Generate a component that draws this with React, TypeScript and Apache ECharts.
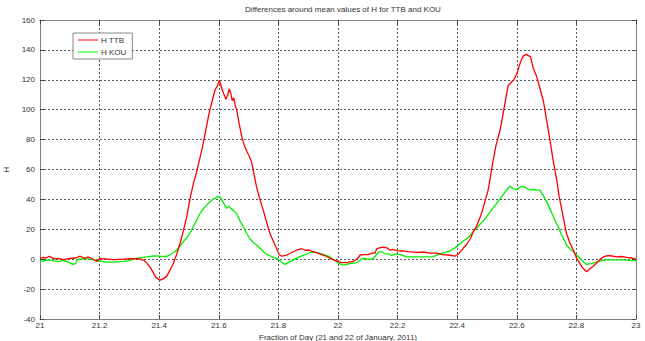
import React, { useEffect, useRef } from "react";
import * as echarts from "echarts";

const titleText = "Differences around mean values of H for TTB and KOU";
const xName = "Fraction of Day (21 and 22 of January, 2011)";
const yName = "H";
const seriesNames = ["H TTB", "H KOU"];

const ttbX = [
  21.0, 21.01, 21.02, 21.03, 21.04, 21.05, 21.06, 21.08, 21.1, 21.12, 21.135, 21.15, 21.16, 21.175, 21.19, 21.2,
  21.22, 21.25, 21.28, 21.3, 21.33, 21.35, 21.36, 21.37, 21.38, 21.39, 21.403, 21.415, 21.425, 21.437, 21.447,
  21.458, 21.47, 21.481, 21.492, 21.503, 21.514, 21.525, 21.537, 21.545, 21.554, 21.562, 21.57, 21.578, 21.587,
  21.595, 21.602, 21.606, 21.612, 21.618, 21.624, 21.63, 21.635, 21.64, 21.645, 21.65, 21.655, 21.66, 21.667,
  21.677, 21.686, 21.694, 21.702, 21.71, 21.718, 21.727, 21.738, 21.749, 21.76, 21.772, 21.783, 21.794, 21.803,
  21.811, 21.825, 21.839, 21.85, 21.861, 21.87, 21.878, 21.89, 21.905, 21.915, 21.928, 21.945, 21.96, 21.973,
  21.985, 22.0, 22.012, 22.03, 22.051, 22.065, 22.075, 22.085, 22.1, 22.115, 22.124, 22.13, 22.14, 22.15, 22.163,
  22.175, 22.185, 22.197, 22.215, 22.235, 22.264, 22.29, 22.31, 22.331, 22.35, 22.37, 22.393, 22.405, 22.42,
  22.432, 22.445, 22.454, 22.465, 22.482, 22.495, 22.504, 22.512, 22.521, 22.53, 22.544, 22.552, 22.56, 22.567,
  22.571, 22.58, 22.59, 22.6, 22.611, 22.617, 22.622, 22.632, 22.64, 22.646, 22.655, 22.667, 22.678, 22.689,
  22.7, 22.711, 22.722, 22.734, 22.742, 22.751, 22.76, 22.767, 22.778, 22.79, 22.8, 22.812, 22.822, 22.834,
  22.845, 22.857, 22.868, 22.88, 22.89, 22.902, 22.915, 22.935, 22.95, 22.97, 22.985, 23.0,
];
const ttbY = [
  0.5, 1.2, 0.8, 2.0, 1.0, 0.2, 0.5, -0.3, 0.5, 0.8, 2.0, 0.5, 1.5, 0.3, -1.5, 0.3,
  0.2, -0.3, 0.0, 0.3, 0.3, -0.8, -3, -5.5, -9, -12.5, -14, -13, -11.5, -7, -3,
  3, 10.5, 19, 28, 40, 50, 58, 68, 75, 84, 92, 100, 106, 113,
  116, 119.5, 117, 113, 110, 107, 110, 114, 111, 106, 108, 103, 100, 92,
  82, 76, 72, 69, 65, 57, 48, 40, 33, 25, 17, 12, 7, 3,
  2, 2.5, 4, 5, 6, 6.5, 7, 6, 6, 5, 4.4, 3, 2, 0.6,
  -0.5, -1.5, -2.3, -2.3, -1.5, 0.5, 2.8, 3, 3, 4, 4, 7, 7.5, 8, 7.7,
  6, 6.5, 5.7, 5.5, 5, 4.6, 4.8, 4, 4, 3, 2.8, 2.1, 3.5, 7.3,
  10, 14, 18.4, 22, 30.7, 40, 46.3, 56, 66.4, 76, 86.4, 95, 104, 112,
  116, 118, 120, 124, 131, 134, 136, 137, 136, 135.5, 128, 122, 114, 106,
  93, 80, 66, 53, 42, 33, 24, 17, 11, 6, 1, -3, -6, -8.4,
  -6.5, -4.5, -2.5, 0, 1.5, 2.3, 2.3, 1.5, 1.8, 1.2, 0.8, 0,
];

const kouX = [
  21.0, 21.01, 21.02, 21.03, 21.04, 21.06, 21.08, 21.095, 21.11, 21.12, 21.125, 21.14, 21.16, 21.18, 21.2, 21.22,
  21.25, 21.28, 21.3, 21.32, 21.34, 21.36, 21.38, 21.4, 21.425, 21.44, 21.453, 21.467, 21.481, 21.495, 21.509,
  21.523, 21.537, 21.551, 21.565, 21.58, 21.593, 21.6, 21.607, 21.615, 21.626, 21.634, 21.64, 21.65, 21.66,
  21.67, 21.682, 21.693, 21.705, 21.716, 21.727, 21.74, 21.755, 21.77, 21.783, 21.794, 21.808, 21.822, 21.836,
  21.85, 21.872, 21.89, 21.905, 21.928, 21.945, 21.96, 21.973, 21.99, 22.005, 22.018, 22.04, 22.063, 22.075,
  22.085, 22.1, 22.114, 22.125, 22.135, 22.146, 22.16, 22.17, 22.18, 22.195, 22.21, 22.23, 22.26, 22.29, 22.32,
  22.342, 22.36, 22.376, 22.398, 22.42, 22.44, 22.454, 22.47, 22.485, 22.499, 22.515, 22.533, 22.55, 22.566,
  22.577, 22.588, 22.6, 22.612, 22.622, 22.633, 22.644, 22.66, 22.678, 22.69, 22.7, 22.715, 22.728, 22.74,
  22.751, 22.76, 22.767, 22.778, 22.79, 22.805, 22.82, 22.834, 22.85, 22.868, 22.885, 22.9, 22.924, 22.95,
  22.98, 23.0,
];
const kouY = [
  -1.0, -1.3, -0.8, -0.5, -1.0, -1.5, -1.0, -2.0, -3.5, -3.0, -0.2, 0.2, 0.2, -0.5, -1.2, -2.0,
  -2.0, -1.5, -1.0, 0.5, 1.0, 1.5, 2.2, 2.0, 1.8, 3.5, 5, 8, 11.7, 15, 19.5,
  25, 30.7, 34.5, 37.4, 40, 41.5, 42, 41, 38, 34, 35.5, 34, 32.5, 30.5,
  26, 21.7, 17.5, 13.5, 11, 9.5, 7, 4, 2.5, 1.2, 0.6, -1.5, -3.5, -2,
  -0.5, 1.7, 3, 4.5, 4.6, 3.5, 2.5, 1.5, -1, -3, -3.9, -3, -2.3, -0.5,
  0.6, 0, 0, 2, 4.5, 5, 3.5, 3.5, 2.5, 3.5, 3, 1.5, 1.5, 1.5, 1.7,
  3.5, 4.5, 5.5, 8.4, 12, 15, 18.4, 22, 25, 28.4, 33, 37.4, 42, 46.3,
  49, 47, 46.5, 48.5, 48.5, 47.5, 46.3, 46.5, 46, 42, 38.5, 32, 26, 21,
  16, 12.5, 9.5, 7, 5, 2, -1, -3.5, -3, -2, -1, -0.5, -0.5, -0.5,
  -0.8, -1,
];

const xMin = 21;
const xMax = 23;
const xStep = 0.2;
const yMin = -40;
const yMax = 160;
const yStep = 20;

const FONT = "'Liberation Sans', Arial, sans-serif";

export default function App() {
  const ref = useRef<HTMLDivElement>(null);
  useEffect(() => {
    if (!ref.current) return;
    const chart = echarts.init(ref.current, undefined, { renderer: "svg", width: 645, height: 341 });
    const ttbData = ttbX.map((x, i) => [x, ttbY[i]]);
    const kouData = kouX.map((x, i) => [x, kouY[i]]);
    const gridLine = { show: true, lineStyle: { color: "#555", type: [2, 2] as any, width: 1 } };
    const axisLine = { show: true, onZero: false, lineStyle: { color: "#808080", width: 1 } };
    const tick = { show: true, inside: true, length: 4, lineStyle: { color: "#444" } };
    const labelStyle = { color: "#333", fontSize: 8, fontFamily: FONT };
    chart.setOption({
      animation: false,
      backgroundColor: "#fff",
      title: {
        text: titleText,
        left: 338,
        textAlign: "center",
        top: 0,
        textStyle: { color: "#333", fontSize: 8, fontWeight: "normal", fontFamily: FONT },
      },
      legend: {
        left: 73,
        top: 33,
        orient: "vertical",
        itemWidth: 20,
        itemHeight: 1,
        itemGap: 4,
        padding: [3, 6, 3, 5],
        borderColor: "#888",
        borderWidth: 1,
        backgroundColor: "#fff",
        icon: "rect",
        textStyle: { color: "#333", fontSize: 8, fontFamily: FONT, padding: [0, 0, 0, -2] },
        data: seriesNames,
      },
      grid: { left: 40, right: 9, top: 20, bottom: 22, containLabel: false, outerBoundsMode: "none" },
      xAxis: [
        {
          type: "value",
          min: xMin,
          max: xMax,
          interval: xStep,
          name: xName,
          nameLocation: "middle",
          nameGap: 9,
          nameTextStyle: { color: "#333", fontSize: 8, fontFamily: FONT },
          axisLine,
          axisTick: tick,
          splitLine: gridLine,
          axisLabel: {
            ...labelStyle,
            margin: 2,
            formatter: (v: number) => String(Math.round(v * 10) / 10),
          },
        },
        {
          type: "value",
          position: "top",
          min: xMin,
          max: xMax,
          interval: xStep,
          axisLine,
          axisTick: tick,
          splitLine: { show: false },
          axisLabel: { show: false },
        },
      ],
      yAxis: [
        {
          type: "value",
          min: yMin,
          max: yMax,
          interval: yStep,
          name: yName,
          nameLocation: "middle",
          nameGap: 21,
          nameRotate: 90,
          nameTextStyle: { color: "#333", fontSize: 8, fontFamily: FONT },
          axisLine,
          axisTick: tick,
          splitLine: gridLine,
          axisLabel: { ...labelStyle, margin: 5 },
        },
        {
          type: "value",
          position: "right",
          min: yMin,
          max: yMax,
          interval: yStep,
          axisLine,
          axisTick: tick,
          splitLine: { show: false },
          axisLabel: { show: false },
        },
      ],
      series: [
        {
          name: seriesNames[0],
          type: "line",
          data: ttbData,
          showSymbol: false,
          symbol: "none",
          color: "#ff0000",
          lineStyle: { color: "#ff0000", width: 1.3 },
          z: 3,
        },
        {
          name: seriesNames[1],
          type: "line",
          data: kouData,
          showSymbol: false,
          symbol: "none",
          color: "#00ff00",
          lineStyle: { color: "#00ee00", width: 1.3 },
          z: 2,
        },
      ],
    });
    return () => chart.dispose();
  }, []);
  return (
    <div
      ref={ref}
      style={{ position: "fixed", left: 0, top: 0, width: 645, height: 341, background: "#fff" }}
    />
  );
}
